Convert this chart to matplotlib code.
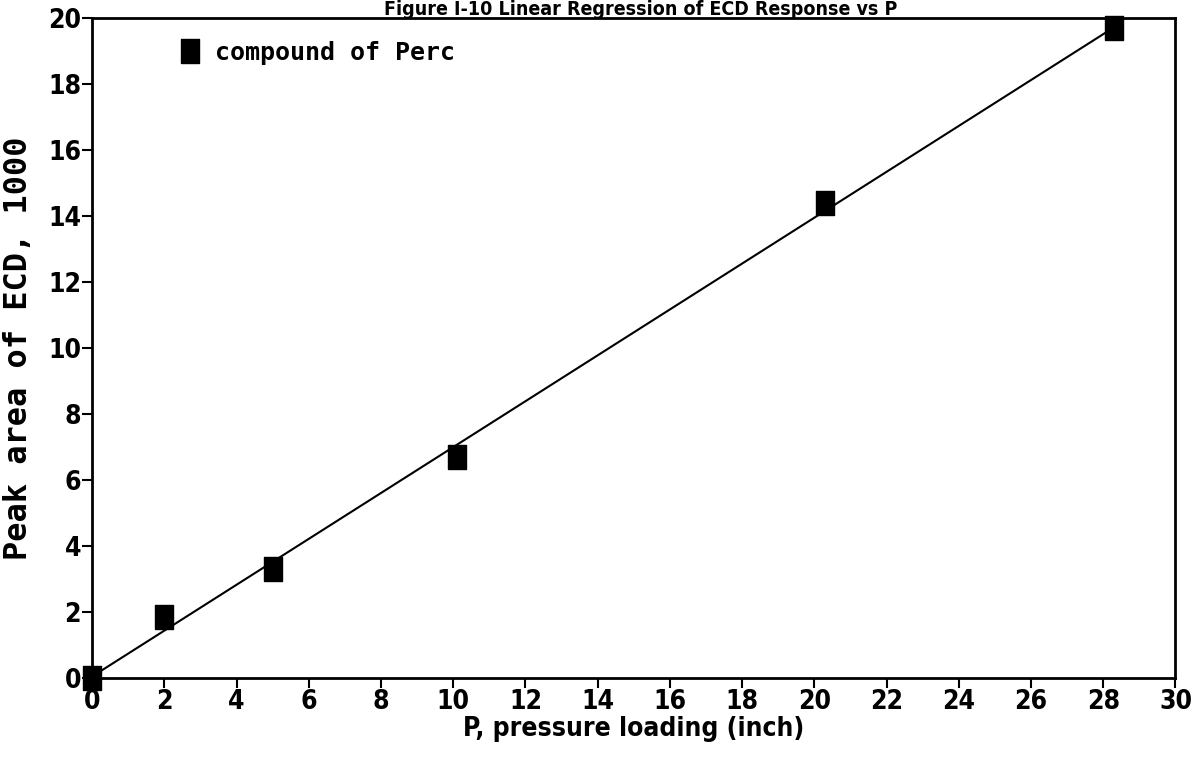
import numpy as np
import matplotlib
matplotlib.use("Agg")
import matplotlib.pyplot as plt

# data
pressure = [0.0, 2.0, 5.0, 10.1, 20.3, 28.3]
peak_area = [0.0, 1.85, 3.3, 6.7, 14.4, 19.7]

x_ticks = list(range(0, 31, 2))
y_ticks = list(range(0, 21, 2))

narrow = ["DejaVu Sans", "Liberation Sans"]
mono = ["DejaVu Sans Mono", "DejaVu Sans"]

# slightly tall rectangle, like the plotter's square symbol
rect = [(-0.37, -0.5), (0.37, -0.5), (0.37, 0.5), (-0.37, 0.5), (-0.37, -0.5)]

fig = plt.figure(figsize=(11.97, 7.65), dpi=100)
ax = fig.add_axes([0.077, 0.114, 0.905, 0.862])

# linear regression line
slope, intercept = np.polyfit(pressure, peak_area, 1)
xfit = np.array([0.0, max(pressure)])
ax.plot(xfit, slope * xfit + intercept, color="black", lw=1.5, zorder=2)

ax.plot(pressure, peak_area, linestyle="none", marker=rect, markersize=17,
        color="black", label="compound of Perc", zorder=3, clip_on=False)

ax.set_xlim(0, 30)
ax.set_ylim(0, 20)
ax.set_xticks(x_ticks)
ax.set_yticks(y_ticks)
ax.tick_params(direction="out", length=7, width=1.5, pad=1)
for lab in ax.get_xticklabels() + ax.get_yticklabels():
    lab.set_family(narrow)
    lab.set_stretch("condensed")
    lab.set_fontweight("bold")
    lab.set_fontsize(19)
for sp in ax.spines.values():
    sp.set_linewidth(2)

ax.set_xlabel("P, pressure loading (inch)", family=narrow, stretch="condensed",
              fontweight="bold", fontsize=19, labelpad=1)
ax.set_ylabel("Peak area of ECD, 1000", family=mono, fontweight="bold",
              fontsize=23, labelpad=10)

leg = ax.legend(loc="upper left", frameon=False, handletextpad=0.6,
                prop={"family": mono, "weight": "bold", "size": 18},
                bbox_to_anchor=(0.06, 1.0), handlelength=0.8)

fig.text(0.535, 1.0, "Figure I-10 Linear Regression of ECD Response vs P",
         ha="center", va="top", family=narrow, stretch="condensed",
         fontweight="bold", fontsize=14)

fig.savefig("out.png", dpi=100, facecolor="white")
